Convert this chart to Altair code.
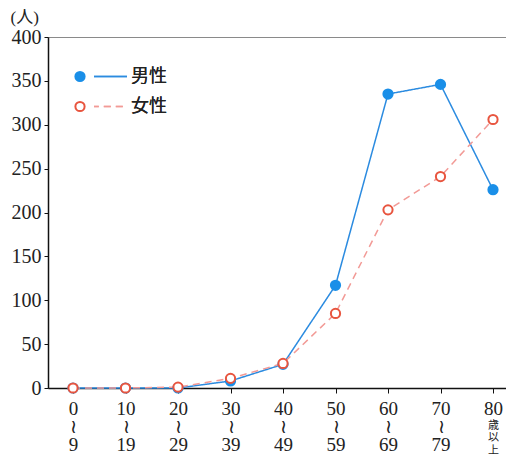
import altair as alt
import pandas as pd

ages = ["0|≀|9", "10|≀|19", "20|≀|29", "30|≀|39", "40|≀|49",
        "50|≀|59", "60|≀|69", "70|≀|79", "80|歳|以|上"]
sexes = ["男性", "女性"]
male = [0, 0, 0, 8, 27, 117, 335, 346, 226]
female = [0, 0, 1, 11, 28, 85, 203, 241, 306]

rows = []
for s, vals in zip(sexes, [male, female]):
    for a, v in zip(ages, vals):
        rows.append({"age": a, "sex": s, "sex2": s, "value": v})
df = pd.DataFrame(rows)

SERIF = "Liberation Serif, DejaVu Serif, Noto Sans CJK JP"
CJK = "Noto Sans CJK JP"
BLUE_L = "#2b8be0"
BLUE_P = "#1a8fe8"
RED_L = "#f29a96"
RED_P = "#e8553f"

XSCALE = alt.Scale(type="point", padding=0.362, align=0.658)
IS80 = "indexof(datum.value, '歳') >= 0"

x_main = alt.X(
    "age:N", sort=ages, scale=XSCALE,
    axis=alt.Axis(
        orient="bottom", title=None, labelAngle=0, labelFont=SERIF,
        labelFontSize=19,
        labelExpr=f"{IS80} ? split(datum.label, '|')[0] : split(datum.label, '|')",
        labelLineHeight=18,
        labelBaseline="top", labelPadding=6, labelColor="#222",
        domainColor="#111", domainWidth=1.5, tickColor="#111", tickSize=5,
        grid=False,
    ),
)
x_none = alt.X("age:N", sort=ages, scale=XSCALE, axis=None)
x_extra = alt.X(
    "age:N", sort=ages, scale=XSCALE,
    axis=alt.Axis(
        orient="bottom", title=None, labelAngle=0, labelFont=CJK,
        labelFontSize=11,
        labelExpr=f"{IS80} ? slice(split(datum.label, '|'), 1) : ''",
        labelLineHeight=12.5, labelBaseline="top", labelPadding=31,
        labelColor="#222", domain=False, ticks=False, grid=False,
    ),
)
y_enc = alt.Y(
    "value:Q",
    scale=alt.Scale(domain=[0, 400], nice=False, zero=True),
    axis=alt.Axis(
        title="(人)", titleAngle=0, titleAlign="left", titleBaseline="middle",
        titleX=-38, titleY=-20, titleFont=SERIF, titleFontSize=17,
        titleFontWeight="normal", titleColor="#222",
        values=list(range(0, 401, 50)), labelFont=SERIF, labelFontSize=20,
        labelColor="#222", labelPadding=3, tickSize=4, tickColor="#111",
        domainColor="#111", domainWidth=1.5, grid=False,
    ),
)

legA = dict(title=None, orient="none", legendX=46, legendY=26,
            symbolType="M-4.4,0L3,0", symbolSize=256, symbolStrokeWidth=1.5,
            symbolFillColor="transparent",
            symbolStrokeColor={"expr": f"datum.value == '{sexes[0]}' ? '{BLUE_L}' : '{RED_L}'"},
            symbolDash={"expr": f"datum.value == '{sexes[0]}' ? [1, 0] : [7, 5]"},
            labelFont=CJK, labelFontSize=18, labelColor="#222", labelOffset=19,
            clipHeight=27, rowPadding=3)

lines = alt.Chart(df).mark_line(strokeWidth=1.5).encode(
    x=x_main, y=y_enc,
    color=alt.Color("sex:N", sort=sexes,
                    scale=alt.Scale(range=[BLUE_L, RED_L]),
                    legend=alt.Legend(**legA)),
    strokeDash=alt.StrokeDash("sex:N", sort=sexes,
                              scale=alt.Scale(range=[[1, 0], [7, 5]]),
                              legend=alt.Legend(**legA)),
)

legB = dict(title=None, orient="none", legendX=23, legendY=26,
            symbolType="circle", symbolSize=85, symbolStrokeWidth=2,
            symbolFillColor={"expr": f"datum.value == '{sexes[0]}' ? '{BLUE_P}' : '#ffffff'"},
            labelExpr="''", labelFontSize=18, clipHeight=27, rowPadding=3)

points = alt.Chart(df).mark_point(shape="circle", filled=True, size=85,
                                  strokeWidth=2, opacity=1).encode(
    x=x_none, y=y_enc,
    fill=alt.Fill("sex2:N", sort=sexes,
                  scale=alt.Scale(range=[BLUE_P, "#ffffff"]),
                  legend=None),
    stroke=alt.Stroke("sex2:N", sort=sexes,
                      scale=alt.Scale(range=[BLUE_P, RED_P]),
                      legend=alt.Legend(**legB)),
)

extra = alt.Chart(df).mark_point(opacity=0).encode(x=x_extra, y=y_enc)

chart = alt.layer(lines, points, extra).resolve_axis(x="independent").properties(
    width=458, height=351,
    autosize=alt.AutoSizeParams(type="none"),
    padding={"left": 40, "top": 29, "right": 0, "bottom": 68},
    background="white",
).configure_view(stroke="#8a8a8a", strokeWidth=1)

chart.save("out.html", embed_options={"renderer": "svg", "actions": False})
